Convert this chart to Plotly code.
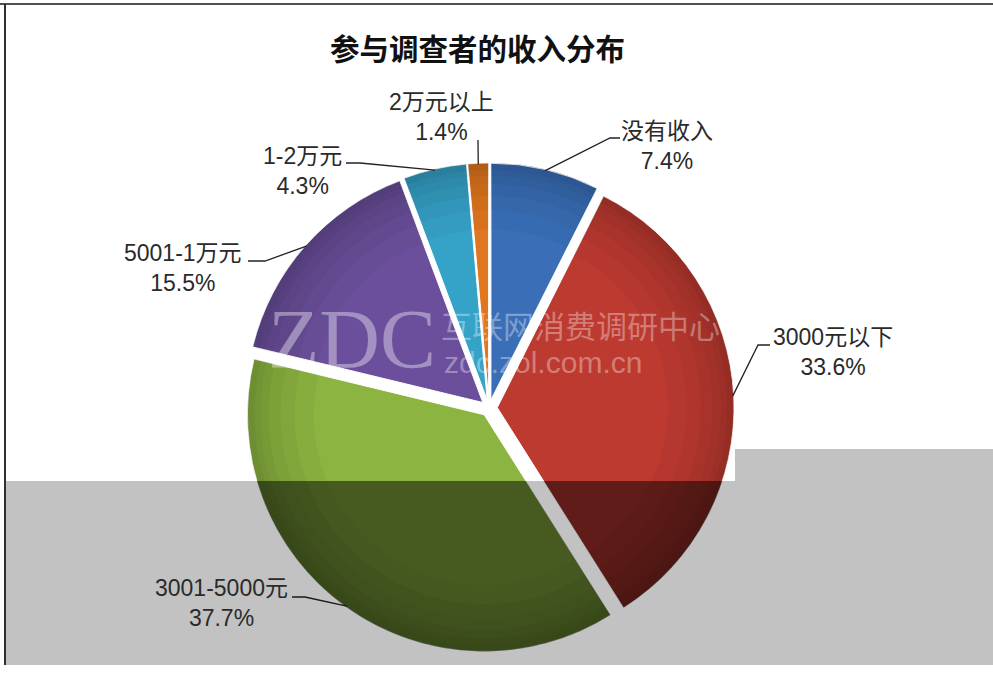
import math
import plotly.graph_objects as go

# ---- data ----
categories = ["没有收入", "3000元以下", "3001-5000元", "5001-1万元", "1-2万元", "2万元以上"]
values = [7.4, 33.6, 37.7, 15.5, 4.3, 1.4]
pct_labels = ["7.4%", "33.6%", "37.7%", "15.5%", "4.3%", "1.4%"]
colors = ["#3a6fb8", "#bd3a31", "#8cb441", "#6b4f9c", "#35a2c8", "#e0761f"]
title_text = "参与调查者的收入分布"

W, H = 993, 675
CX, CY, RMAX = 489, 408, 245   # pie centre / outer extent in px
PULL = 0.035
R = RMAX / (1 + PULL)          # plotly's slice radius
D = PULL * R                   # pull offset
GRAY_TOP_LEFT, GRAY_TOP_RIGHT, GRAY_STEP_X, GRAY_BOTTOM = 481, 449, 735, 665

def px(x):
    return x / W

def py(y):
    return 1 - y / H

# label layout (px): block centre, elbow of leader line, end of leader line
label_pos = [(667, 146), (833, 352), (221, 603), (183, 268), (302, 171), (441, 117)]
elbows = [(610, 138), (758, 345), (305, 597), (265, 261), (360, 163), (478, 140)]
ends = [(620, 138), (770, 345), (292, 597), (248, 261), (346, 163), (478, 140)]

domain = dict(x=[px(CX - RMAX), px(CX + RMAX)], y=[py(CY + RMAX), py(CY - RMAX)])

fig = go.Figure()
fig.add_trace(go.Pie(
    labels=categories, values=values, sort=False, direction="clockwise",
    rotation=0, pull=[PULL] * len(values),
    marker=dict(colors=colors, line=dict(color="white", width=1)),
    textinfo="none", hoverinfo="label+percent", showlegend=False, domain=domain,
))
# soft darker rims to imitate the bevelled look
for hole in [0.72, 0.80, 0.86, 0.91, 0.945, 0.97]:
    fig.add_trace(go.Pie(
        labels=categories, values=values, sort=False, direction="clockwise",
        rotation=0, pull=[PULL] * len(values), hole=hole,
        marker=dict(colors=["rgba(0,0,0,0.035)"] * len(values), line=dict(width=0)),
        textinfo="none", hoverinfo="skip", showlegend=False, domain=domain,
    ))

shapes = []
annotations = []

def clip_below(poly, ylim):
    """keep the part of polygon with y >= ylim (pixel coords, y down)"""
    out = []
    n = len(poly)
    for k in range(n):
        a = poly[k]
        b = poly[(k + 1) % n]
        ina, inb = a[1] >= ylim, b[1] >= ylim
        if ina:
            out.append(a)
        if ina != inb:
            t = (ylim - a[1]) / (b[1] - a[1])
            out.append((a[0] + t * (b[0] - a[0]), ylim))
    return out

total = sum(values)
cum = 0
for i, v in enumerate(values):
    a0 = cum / total * 2 * math.pi
    a1 = (cum + v) / total * 2 * math.pi
    mid = (a0 + a1) / 2
    cum += v
    ox, oy = CX + D * math.sin(mid), CY - D * math.cos(mid)
    # leader line from the slice edge
    sx = ox + (R - 1) * math.sin(mid)
    sy = oy - (R - 1) * math.cos(mid)
    ex, ey = elbows[i]
    fx, fy = ends[i]
    path = f"M {px(sx)},{py(sy)} L {px(ex)},{py(ey)} L {px(fx)},{py(fy)}"
    shapes.append(dict(type="path", xref="paper", yref="paper", path=path,
                       line=dict(color="#222222", width=1.3), layer="above"))
    lx, ly = label_pos[i]
    annotations.append(dict(
        xref="paper", yref="paper", x=px(lx), y=py(ly), xanchor="center", yanchor="middle",
        text=f"{categories[i]}<br>{pct_labels[i]}", showarrow=False, align="center",
        font=dict(family="Liberation Sans, Noto Sans CJK SC, sans-serif", size=23, color="#2a2a2a"),
    ))
    # extra darkening of the slice part lying in the grey screenshot area
    steps = max(4, int((a1 - a0) / 0.02))
    poly = [(ox, oy)] + [(ox + R * math.sin(a0 + (a1 - a0) * s / steps),
                          oy - R * math.cos(a0 + (a1 - a0) * s / steps)) for s in range(steps + 1)]
    clipped = clip_below(poly, GRAY_TOP_LEFT)
    if len(clipped) >= 3:
        p = "M " + " L ".join(f"{px(x)},{py(y)}" for x, y in clipped) + " Z"
        shapes.append(dict(type="path", xref="paper", yref="paper", layer="above", path=p,
                           fillcolor="rgba(0,0,0,0.33)", line=dict(width=0)))

# watermark
annotations.append(dict(xref="paper", yref="paper", x=px(352), y=py(340), text="ZDC",
                        showarrow=False, xanchor="center", yanchor="middle",
                        font=dict(family="Liberation Serif, serif", size=84, color="rgba(255,255,255,0.38)")))
annotations.append(dict(xref="paper", yref="paper", x=px(580), y=py(325), text="互联网消费调研中心",
                        showarrow=False, xanchor="center", yanchor="middle",
                        font=dict(family="Noto Sans CJK SC", size=31, color="rgba(255,255,255,0.35)")))
annotations.append(dict(xref="paper", yref="paper", x=px(543), y=py(362), text="zdc.zol.com.cn",
                        showarrow=False, xanchor="center", yanchor="middle",
                        font=dict(family="Liberation Sans", size=30, color="rgba(255,255,255,0.35)")))

# title
annotations.append(dict(xref="paper", yref="paper", x=px(477), y=py(47), text=f"<b>{title_text}</b>",
                        showarrow=False, xanchor="center", yanchor="middle",
                        font=dict(family="Noto Sans CJK SC", size=29.5, color="#111111")))

# grey screenshot overlay (L-shaped)
shapes.append(dict(type="path", xref="paper", yref="paper", layer="above",
                   path=f"M {px(5)},{py(GRAY_TOP_LEFT)} L {px(GRAY_STEP_X)},{py(GRAY_TOP_LEFT)} "
                        f"L {px(GRAY_STEP_X)},{py(GRAY_TOP_RIGHT)} L {px(W)},{py(GRAY_TOP_RIGHT)} "
                        f"L {px(W)},{py(GRAY_BOTTOM)} L {px(5)},{py(GRAY_BOTTOM)} Z",
                   fillcolor="rgba(0,0,0,0.24)", line=dict(width=0)))

# frame
shapes.append(dict(type="line", xref="paper", yref="paper", x0=0, x1=1, y0=py(4), y1=py(4),
                   line=dict(color="#505050", width=2)))
shapes.append(dict(type="line", xref="paper", yref="paper", x0=px(5), x1=px(5), y0=py(4), y1=py(665),
                   line=dict(color="#303030", width=2)))

fig.update_layout(
    width=W, height=H, margin=dict(l=0, r=0, t=0, b=0),
    paper_bgcolor="white", plot_bgcolor="white",
    shapes=shapes, annotations=annotations, showlegend=False,
)
fig.write_html("out.html", config={"displayModeBar": False},
               post_script="document.body.style.margin='0';document.body.style.overflow='hidden';")
